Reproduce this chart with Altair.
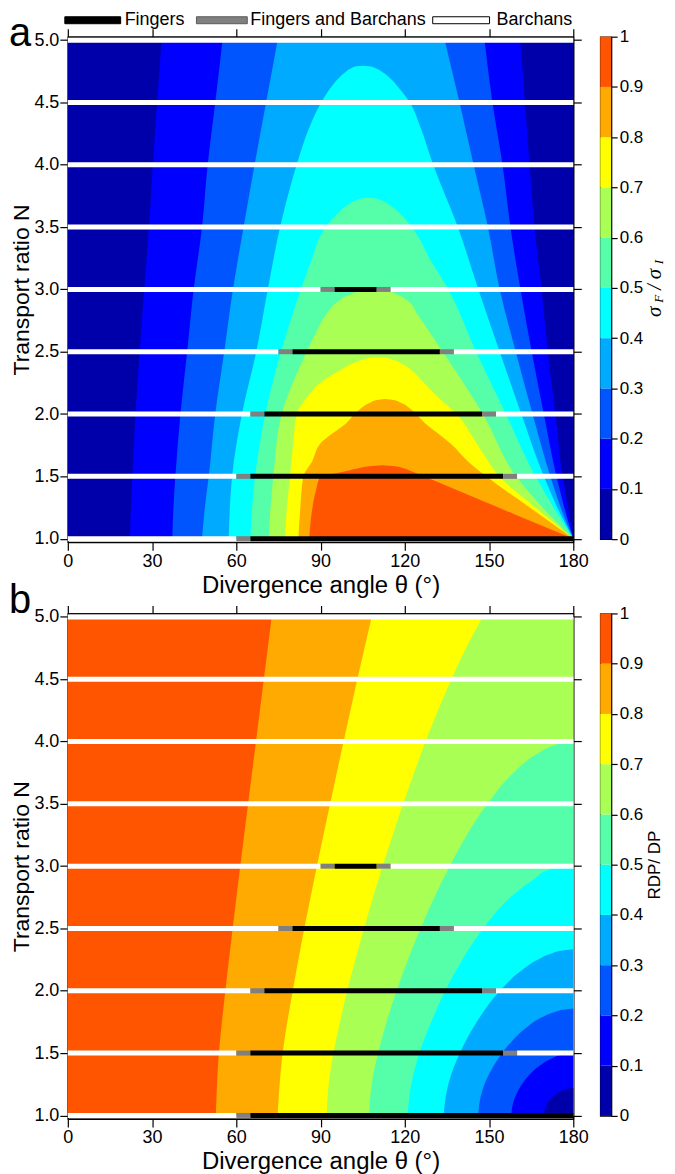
import altair as alt
import pandas as pd

# ---------------- data ----------------
THETA_TICKS = [0, 30, 60, 90, 120, 150, 180]
N_TICKS = [1.0, 1.5, 2.0, 2.5, 3.0, 3.5, 4.0, 4.5, 5.0]
CBAR_TICKS = [0, 0.1, 0.2, 0.3, 0.4, 0.5, 0.6, 0.7, 0.8, 0.9, 1]
BAND_EDGES = [0.0, 0.1, 0.2, 0.3, 0.4, 0.5, 0.6, 0.7, 0.8, 0.9, 1.0]
BAND_COLORS = ["#0000AA", "#0000FF", "#0055FF", "#00AAFF", "#00FFFF",
               "#55FFAA", "#AAFF55", "#FFFF00", "#FFAA00", "#FF5500"]

# panel a: region sigma_F/sigma_I >= level : (N, theta_low, theta_high)
A_LEVEL_01 = [(1.00, 22.1, 180.0), (1.25, 22.5, 178.1), (1.50, 23.0, 176.2), (2.00, 24.1, 173.6),
              (2.50, 25.6, 170.9), (3.00, 27.2, 168.7), (3.50, 28.9, 166.2), (4.00, 30.3, 164.4),
              (4.50, 31.8, 162.8), (5.00, 33.4, 161.1)]
A_LEVEL_02 = [(1.00, 37.2, 180.0), (1.25, 37.6, 176.8), (1.50, 38.3, 174.0), (2.00, 40.1, 169.5),
              (2.50, 42.5, 165.2), (3.00, 44.8, 161.2), (3.50, 47.8, 157.6), (4.00, 49.8, 154.8),
              (4.50, 52.5, 151.2), (5.00, 55.1, 148.4)]
A_LEVEL_03 = [(1.00, 47.8, 180.0), (1.25, 48.8, 175.5), (1.50, 50.2, 171.8), (2.00, 52.5, 165.5),
              (2.50, 55.7, 159.5), (3.00, 58.8, 153.8), (3.50, 62.6, 149.6), (4.00, 66.5, 144.5),
              (4.50, 70.6, 139.5), (5.00, 74.7, 134.2)]
A_LEVEL_04 = [(1.00, 57.3, 180.0), (1.25, 57.7, 174.3), (1.50, 58.5, 169.5), (2.00, 62.0, 161.5),
              (2.50, 67.1, 153.8), (3.00, 71.2, 146.2), (3.50, 75.6, 138.9), (4.00, 81.5, 130.1),
              (4.30, 86.0, 125.6), (4.50, 90.2, 121.8), (4.60, 93.0, 118.5), (4.695, 96.4, 114.8),
              (4.745, 98.9, 112.0), (4.775, 100.9, 109.6), (4.79, 102.7, 107.5), (4.795, 105.0, 105.0)]
A_LEVEL_05 = [(1.00, 65.0, 180.0), (1.25, 65.6, 173.0), (1.50, 66.7, 166.5), (2.00, 70.3, 156.0),
              (2.50, 75.9, 145.4), (3.00, 83.0, 135.5), (3.25, 87.0, 128.8), (3.45, 90.4, 124.0),
              (3.60, 95.6, 118.7), (3.68, 99.7, 114.5), (3.715, 102.6, 111.5), (3.729, 104.6, 109.5),
              (3.735, 107.0, 107.0)]
A_LEVEL_06 = [(1.00, 71.5, 180.0), (1.25, 72.2, 169.0), (1.50, 73.2, 159.6), (2.00, 76.2, 147.8),
              (2.50, 85.1, 133.5), (2.65, 88.3, 129.0), (2.80, 92.0, 124.5), (2.90, 96.0, 121.5),
              (2.96, 100.5, 117.2), (2.99, 105.0, 113.6), (3.00, 109.5, 109.5)]
A_LEVEL_07 = [(1.00, 77.4, 180.0), (1.25, 78.0, 166.5), (1.50, 79.2, 153.7), (1.75, 80.2, 146.0),
              (2.00, 81.5, 138.4), (2.13, 85.1, 132.0), (2.27, 91.0, 126.0), (2.35, 96.9, 122.5),
              (2.41, 101.8, 118.5), (2.44, 105.7, 115.3), (2.451, 108.2, 113.2), (2.455, 111.0, 111.0)]
A_LEVEL_08 = [(1.00, 82.1, 180.0), (1.25, 82.8, 164.5), (1.50, 83.9, 149.0), (1.62, 87.0, 142.5),
              (1.76, 89.8, 136.5), (1.93, 99.3, 127.0), (2.03, 103.6, 122.6), (2.09, 107.6, 118.6),
              (2.112, 110.2, 115.9), (2.12, 113.0, 113.0)]
A_LEVEL_09 = [(1.00, 86.0, 180.0), (1.10, 86.3, 169.3), (1.20, 86.8, 158.6), (1.30, 87.5, 148.0),
              (1.40, 88.5, 137.4), (1.49, 89.8, 127.8), (1.53, 96.9, 123.5), (1.565, 103.5, 119.5),
              (1.582, 107.5, 116.5), (1.59, 112.0, 112.0)]

# panel b: region RDP/DP < level lies right of boundary : (N, theta_boundary)
B_LEVEL_09 = [(1.0, 52.7), (1.5, 53.8), (2.0, 56.1), (2.5, 58.7), (3.0, 61.4), (3.5, 64.2),
              (4.0, 67.0), (4.5, 69.8), (5.0, 72.6)]
B_LEVEL_08 = [(1.0, 74.7), (1.5, 76.5), (2.0, 80.1), (2.5, 84.2), (3.0, 88.7), (3.5, 93.4),
              (4.0, 98.2), (4.5, 103.1), (5.0, 108.2)]
B_LEVEL_07 = [(1.0, 92.2), (1.25, 92.9), (1.5, 94.6), (1.75, 96.9), (2.0, 99.5), (2.25, 102.4),
              (2.5, 105.5), (2.75, 108.7), (3.0, 112.1), (3.25, 115.7), (3.5, 119.4), (3.75, 123.3),
              (4.0, 127.4), (4.25, 131.8), (4.5, 136.6), (4.75, 141.8), (5.0, 147.7)]
B_LEVEL_06 = [(1.0, 107.3), (1.25, 108.2), (1.5, 110.5), (1.75, 113.5), (2.0, 117.1), (2.25, 121.1),
              (2.5, 125.6), (2.75, 130.5), (3.0, 136.0), (3.25, 142.1), (3.5, 149.4), (3.75, 158.7),
              (3.9, 167.0), (3.97, 173.3), (3.99, 176.6), (4.0, 180.0)]
B_LEVEL_05 = [(1.0, 121.0), (1.25, 122.3), (1.5, 125.2), (1.75, 129.4), (2.0, 134.4), (2.25, 140.5),
              (2.5, 147.9), (2.75, 157.6), (2.9, 166.2), (2.97, 171.1), (2.99, 176.3), (3.0, 180.0)]
B_LEVEL_04 = [(1.0, 133.8), (1.25, 135.5), (1.5, 139.6), (1.75, 145.6), (2.0, 153.9), (2.15, 160.8),
              (2.25, 167.3), (2.3, 172.3), (2.325, 176.7), (2.333, 180.0)]
B_LEVEL_03 = [(1.0, 146.1), (1.2, 147.6), (1.4, 151.7), (1.6, 158.3), (1.7, 163.0), (1.8, 170.0),
              (1.83, 173.4), (1.85, 177.1), (1.857, 180.0)]
B_LEVEL_02 = [(1.0, 157.9), (1.1, 158.6), (1.2, 160.4), (1.3, 163.4), (1.4, 168.1), (1.45, 171.8),
              (1.49, 176.8), (1.5, 180.0)]
B_LEVEL_01 = [(1.0, 169.5), (1.1, 170.9), (1.15, 172.8), (1.2, 176.2), (1.21, 177.4), (1.222, 180.0)]

# dune-type segments along each transport ratio: (N, theta_start, theta_end, regime)
SEGMENTS = [
    (5.0, 0, 180, "Barchans"), (4.5, 0, 180, "Barchans"), (4.0, 0, 180, "Barchans"),
    (3.5, 0, 180, "Barchans"),
    (3.0, 0, 90, "Barchans"), (3.0, 90, 95, "Fingers and Barchans"), (3.0, 95, 110, "Fingers"),
    (3.0, 110, 115, "Fingers and Barchans"), (3.0, 115, 180, "Barchans"),
    (2.5, 0, 75, "Barchans"), (2.5, 75, 80, "Fingers and Barchans"), (2.5, 80, 132.5, "Fingers"),
    (2.5, 132.5, 137.5, "Fingers and Barchans"), (2.5, 137.5, 180, "Barchans"),
    (2.0, 0, 65, "Barchans"), (2.0, 65, 70, "Fingers and Barchans"), (2.0, 70, 147.5, "Fingers"),
    (2.0, 147.5, 152.5, "Fingers and Barchans"), (2.0, 152.5, 180, "Barchans"),
    (1.5, 0, 60, "Barchans"), (1.5, 60, 65, "Fingers and Barchans"), (1.5, 65, 155, "Fingers"),
    (1.5, 155, 160, "Fingers and Barchans"), (1.5, 160, 180, "Barchans"),
    (1.0, 0, 60, "Barchans"), (1.0, 60, 65, "Fingers and Barchans"), (1.0, 65, 180, "Fingers"),
]
REGIMES = ["Fingers", "Fingers and Barchans", "Barchans"]
REGIME_FILL = ["#000000", "#808080", "#FFFFFF"]
REGIME_EDGE = ["#000000", "#5A5A5A", "#000000"]

# ---------------- styling / layout ----------------
FONT = "Liberation Sans"
PLOT_W, PLOT_H = 507, 507
CB_W, CB_H = 11, 504
XS = alt.Scale(domain=[0, 180], nice=False, zero=False)
YS = alt.Scale(domain=[0.972, 5.028], nice=False, zero=False)
X_TITLE = "Divergence angle θ (°)"
Y_TITLE = "Transport ratio N"

AX_BOTTOM = alt.Axis(values=THETA_TICKS, format="d", tickSize=8, labelFontSize=18, titleFontSize=24,
                     labelPadding=2, titlePadding=3, labelFlush=False, grid=False,
                     titleFontWeight="normal", labelFont=FONT, titleFont=FONT)
AX_LEFT = alt.Axis(values=N_TICKS, format=".1f", tickSize=8, labelFontSize=18, titleFontSize=23,
                   labelPadding=1, titlePadding=0, grid=False,
                   titleFontWeight="normal", labelFont=FONT, titleFont=FONT)
AX_TOP = alt.Axis(orient="top", values=THETA_TICKS, labels=False, tickSize=8, title="", grid=False,
                  minExtent=0, titlePadding=0, titleFontSize=1)
AX_RIGHT = alt.Axis(orient="right", values=N_TICKS, labels=False, tickSize=8, title="", grid=False,
                    minExtent=0, titlePadding=0, titleFontSize=1)


def xenc(field):
    return alt.X(f"{field}:Q", scale=XS, axis=AX_BOTTOM, title=X_TITLE)


def yenc(field):
    return alt.Y(f"{field}:Q", scale=YS, axis=AX_LEFT, title=Y_TITLE)


def rules_layer():
    seg = pd.DataFrame(SEGMENTS, columns=["N", "t0", "t1", "regime"])
    cmap = dict(zip(REGIMES, REGIME_FILL))
    seg["c"] = seg["regime"].map(cmap)
    return alt.Chart(seg).mark_rule(strokeWidth=5, strokeCap="butt").encode(
        x=xenc("t0"), x2="t1", y=yenc("N"), color=alt.Color("c:N", scale=None))


def background(color):
    df = pd.DataFrame({"t0": [0.0], "t1": [180.0], "n0": [1.0], "n1": [5.0]})
    return alt.Chart(df).mark_rect(color=color).encode(
        x=xenc("t0"), x2="t1", y=yenc("n0"), y2="n1")


def area_a(rows, color):
    df = pd.DataFrame(rows, columns=["N", "lo", "hi"])
    return alt.Chart(df).mark_area(orient="horizontal", color=color, interpolate="monotone").encode(
        y=yenc("N"), x=xenc("lo"), x2="hi")


def area_b(rows, color):
    df = pd.DataFrame(rows, columns=["N", "lo"])
    df["hi"] = 180.0
    return alt.Chart(df).mark_area(orient="horizontal", color=color, interpolate="monotone").encode(
        y=yenc("N"), x=xenc("lo"), x2="hi")


def panel_label(txt, dy):
    df = pd.DataFrame({"t": [txt]})
    return alt.Chart(df).mark_text(font=FONT, fontSize=40, align="left", baseline="alphabetic",
                                   color="black").encode(
        text="t:N", x=alt.value(-59), y=alt.value(dy))


def axes_layer():
    df = pd.DataFrame({"t": [0.0], "n": [1.0]})
    return alt.Chart(df).mark_point(opacity=0).encode(
        x=alt.X("t:Q", scale=XS, axis=AX_TOP),
        y=alt.Y("n:Q", scale=YS, axis=AX_RIGHT))


def top_legend():
    layers = []
    bar_x = [(-3, 53), (129, 180), (366, 423)]
    text_x = [57, 183, 430]
    ly = -16.5
    for name, fill, edge, (b0, b1), tx in zip(REGIMES, REGIME_FILL, REGIME_EDGE, bar_x, text_x):
        df = pd.DataFrame({"t": [name]})
        layers.append(alt.Chart(df).mark_rect(fill=fill, stroke=edge, strokeWidth=1).encode(
            x=alt.value(b0), x2=alt.value(b1), y=alt.value(ly - 3.5), y2=alt.value(ly + 3.5)))
        layers.append(alt.Chart(df).mark_text(font=FONT, fontSize=18, align="left",
                                              baseline="middle", color="black").encode(
            text="t:N", x=alt.value(tx), y=alt.value(ly)))
    return layers


def make_panel(layers):
    inner = alt.layer(*layers)
    return alt.layer(inner, axes_layer()).resolve_axis(
        x="independent", y="independent").properties(width=PLOT_W, height=PLOT_H)


def colorbar(title_layers, title_text):
    df = pd.DataFrame({"lo": BAND_EDGES[:-1], "hi": BAND_EDGES[1:], "col": BAND_COLORS})
    ax = alt.Axis(orient="right", values=CBAR_TICKS, format="~g", tickSize=6, labelFontSize=17,
                  labelPadding=2, grid=False, title=title_text, titleFontSize=17, titleAngle=270,
                  titleBaseline="top", titlePadding=4, titleFontWeight="normal",
                  labelFont=FONT, titleFont=FONT, minExtent=0)
    bar = alt.Chart(df).mark_rect().encode(
        x=alt.value(0), x2=alt.value(CB_W),
        y=alt.Y("lo:Q", scale=alt.Scale(domain=[0, 1], nice=False, zero=False), axis=ax),
        y2="hi", color=alt.Color("col:N", scale=None))
    return alt.layer(bar, *title_layers).properties(width=CB_W, height=CB_H)


def sigma_title():
    pieces = [("σ", 55, 276, 21), ("F", 59, 263, 13), ("/", 55, 251, 20),
              ("σ", 55, 238, 21), ("I", 59, 226, 13)]
    layers = []
    for t, x, y, s in pieces:
        df = pd.DataFrame({"t": [t]})
        layers.append(alt.Chart(df).mark_text(font="Liberation Serif", fontStyle="italic",
                                              fontSize=s, angle=270, align="center",
                                              baseline="middle", color="black").encode(
            text="t:N", x=alt.value(x), y=alt.value(y)))
    return layers


# ---------------- panel a ----------------
a_levels = [A_LEVEL_01, A_LEVEL_02, A_LEVEL_03, A_LEVEL_04, A_LEVEL_05,
            A_LEVEL_06, A_LEVEL_07, A_LEVEL_08, A_LEVEL_09]
layers_a = [background(BAND_COLORS[0])]
for i, rows in enumerate(a_levels):
    layers_a.append(area_a(rows, BAND_COLORS[i + 1]))
layers_a.append(rules_layer())
layers_a.append(panel_label("a", 9))
layers_a += top_legend()
panel_a = make_panel(layers_a)

# ---------------- panel b ----------------
b_levels = [B_LEVEL_09, B_LEVEL_08, B_LEVEL_07, B_LEVEL_06, B_LEVEL_05,
            B_LEVEL_04, B_LEVEL_03, B_LEVEL_02, B_LEVEL_01]
layers_b = [background(BAND_COLORS[9])]
for k, rows in zip(range(9, 0, -1), b_levels):
    layers_b.append(area_b(rows, BAND_COLORS[k - 1]))
layers_b.append(rules_layer())
layers_b.append(panel_label("b", 0))
panel_b = make_panel(layers_b)

cb_a = colorbar(sigma_title(), "")
cb_b = colorbar([], "RDP/ DP")

chart = alt.concat(panel_a, cb_a, panel_b, cb_b, columns=2,
                   spacing={"row": 71.5, "column": 27}, bounds="flush").properties(
    padding={"left": 0, "top": 0, "right": 0, "bottom": 2}, background="white"
).configure_view(stroke="black", strokeWidth=1.2).configure_axis(
    domainColor="black", tickColor="black", labelColor="black", titleColor="black",
    labelFont=FONT, titleFont=FONT, titleFontWeight="normal", domainWidth=1.2, tickWidth=1.2
)

chart.save("out.html", embed_options={"renderer": "svg", "actions": False})
